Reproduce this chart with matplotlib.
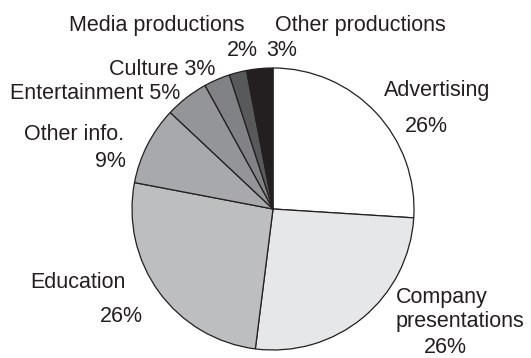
import matplotlib
matplotlib.use("Agg")
import matplotlib.pyplot as plt

# Share of productions by category (percent), clockwise from 12 o'clock
categories = ["Advertising", "Company presentations", "Education", "Other info.",
              "Entertainment", "Culture", "Media productions", "Other productions"]
shares = [26, 26, 26, 9, 5, 3, 2, 3]
colors = ["#ffffff", "#e6e7e8", "#bcbec0", "#a7a9ac",
          "#939598", "#808285", "#58595b", "#231f20"]

W, H = 531, 358
fig = plt.figure(figsize=(W / 100, H / 100), dpi=100)
plt.rcParams["font.family"] = ["Liberation Sans", "DejaVu Sans"]

# Pie axes placed in pixel space: centre (273, 209), radius 141
cx, cy, r = 273, 209, 141
ax = fig.add_axes([(cx - r) / W, (H - cy - r) / H, 2 * r / W, 2 * r / H])
wedges, _ = ax.pie(shares, colors=colors, startangle=90, counterclock=False,
                   wedgeprops=dict(edgecolor="#231f20", linewidth=0.9))
for w in wedges:
    w.set_clip_on(False)
ax.set_xlim(-1, 1)
ax.set_ylim(-1, 1)
ax.set_aspect("equal")
ax.axis("off")

fs = 15.5
tc = "#231f20"


def put(x, y, s, ha="center"):
    fig.text(x / W, 1 - y / H, s, ha=ha, va="baseline", fontsize=fs, color=tc)


pct = [f"{v}%" for v in shares]

put(437, 96, categories[0])
put(426, 132, pct[0])
put(396, 303, "Company", ha="left")
put(396, 327, "presentations", ha="left")
put(445, 353, pct[1])
put(78, 288, categories[2])
put(121, 322, pct[2])
put(74, 140, categories[3])
put(110, 167, pct[3])
put(95, 99, f"{categories[4]} {pct[4]}")
put(162, 75, f"{categories[5]} {pct[5]}")
put(157, 31, categories[6])
put(242, 56, pct[6])
put(360, 31, categories[7])
put(282, 56, pct[7])

fig.savefig("out.png", dpi=100)
